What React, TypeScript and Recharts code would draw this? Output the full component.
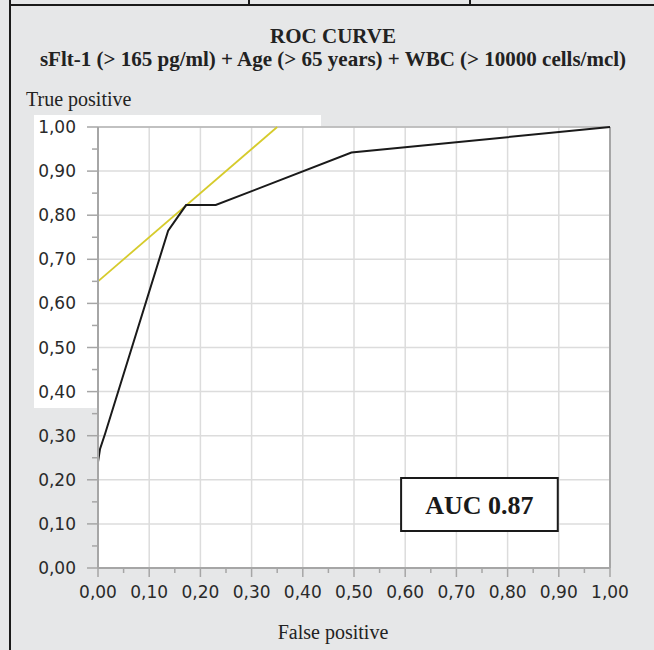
import React from 'react';
import { LineChart, Line, XAxis, YAxis, CartesianGrid, ReferenceArea, ReferenceLine } from 'recharts';

// ROC curve points (false positive rate, true positive rate)
const rocFpr = [0, 0.004, 0.014, 0.137, 0.172, 0.23, 0.495, 1];
const rocTpr = [0.24, 0.27, 0.305, 0.765, 0.823, 0.823, 0.942, 1];

// tangent (yellow) line
const tangentFpr = [0, 0.35];
const tangentTpr = [0.65, 1];

const majorTicks = [0, 0.1, 0.2, 0.3, 0.4, 0.5, 0.6, 0.7, 0.8, 0.9, 1];
const allTicks = [0, 0.05, 0.1, 0.15, 0.2, 0.25, 0.3, 0.35, 0.4, 0.45, 0.5, 0.55, 0.6, 0.65, 0.7, 0.75, 0.8, 0.85, 0.9, 0.95, 1];

const aucLabel = 'AUC 0.87';
const aucX = [0.592, 0.898];
const aucY = [0.084, 0.204];

const rocData = rocFpr.map((x, i) => ({ x, y: rocTpr[i] }));
const tangentData = tangentFpr.map((x, i) => ({ x, y: tangentTpr[i] }));

const isMajor = (v: number) => Math.abs(v * 10 - Math.round(v * 10)) < 1e-6;
const fmt = (v: number) => v.toFixed(2).replace('.', ',');

const AXIS = '#a6a6a6';
const tickFont = { fontFamily: 'DejaVu Sans', fontSize: 17, fill: '#2a2a2a' };

const XTick = (props: any) => {
  const { x, y, payload } = props;
  const major = isMajor(payload.value);
  return (
    <g>
      <line x1={x} x2={x} y1={y} y2={y + (major ? 9 : 5)} stroke={AXIS} strokeWidth={1.5} />
      {major && (
        <text x={x} y={y + 30} textAnchor="middle" {...tickFont}>
          {fmt(payload.value)}
        </text>
      )}
    </g>
  );
};

const YTick = (props: any) => {
  const { x, y, payload } = props;
  const major = isMajor(payload.value);
  return (
    <g>
      <line x1={x - (major ? 11 : 6)} x2={x} y1={y} y2={y} stroke={AXIS} strokeWidth={1.5} />
      {major && (
        <text x={x - 22} y={y + 6} textAnchor="end" {...tickFont}>
          {fmt(payload.value)}
        </text>
      )}
    </g>
  );
};

const serif = 'Liberation Serif';

export default function App() {
  return (
    <div style={{ position: 'absolute', left: 0, top: 0, width: 654, height: 650, background: '#e6e7e8', overflow: 'hidden' }}>
      <svg width={654} height={650} style={{ position: 'absolute', left: 0, top: 0 }}>
        <line x1={10} x2={10} y1={0} y2={650} stroke="#1a1a1a" strokeWidth={2} />
        <line x1={10} x2={654} y1={5} y2={5} stroke="#1a1a1a" strokeWidth={2} />
        <line x1={249} x2={249} y1={0} y2={5} stroke="#1a1a1a" strokeWidth={2} />
        <line x1={470} x2={470} y1={0} y2={5} stroke="#1a1a1a" strokeWidth={2} />
        <rect x={34} y={115} width={287} height={13} fill="#fff" />
        <rect x={34} y={115} width={64} height={293} fill="#fff" />
        <text x={333} y={43} textAnchor="middle" fontFamily={serif} fontSize={21} fontWeight="bold" fill="#222">
          ROC CURVE
        </text>
        <text x={333} y={66} textAnchor="middle" fontFamily={serif} fontSize={21} fontWeight="bold" fill="#222">
          sFlt-1 (&gt; 165 pg/ml) + Age (&gt; 65 years) + WBC (&gt; 10000 cells/mcl)
        </text>
        <text x={26} y={106} fontFamily={serif} fontSize={20} fill="#222">True positive</text>
        <text x={333} y={639} textAnchor="middle" fontFamily={serif} fontSize={20} fill="#222">False positive</text>
      </svg>
      <div style={{ position: 'absolute', left: 0, top: 0 }}>
        <LineChart width={654} height={650} margin={{ top: 127, right: 44, bottom: 52, left: 0 }}>
          <CartesianGrid
            fill="#fff"
            stroke="#dcdcdc"
            strokeWidth={1.5}
            verticalValues={majorTicks}
            horizontalValues={majorTicks}
          />
          <XAxis
            dataKey="x"
            type="number"
            domain={[0, 1]}
            ticks={allTicks}
            interval={0}
            height={30}
            tickSize={0}
            tickMargin={0}
            tickLine={false}
            tick={<XTick />}
            axisLine={{ stroke: AXIS, strokeWidth: 2 }}
          />
          <YAxis
            dataKey="y"
            type="number"
            domain={[0, 1]}
            ticks={allTicks}
            interval={0}
            width={98}
            tickSize={0}
            tickMargin={0}
            tickLine={false}
            tick={<YTick />}
            axisLine={{ stroke: AXIS, strokeWidth: 2 }}
          />
          <ReferenceLine y={1} stroke="#b4b4b4" strokeWidth={1.5} />
          <ReferenceLine x={1} stroke={AXIS} strokeWidth={2} />
          <Line
            data={tangentData}
            dataKey="y"
            type="linear"
            stroke="#d6cb2c"
            strokeWidth={1.8}
            dot={false}
            isAnimationActive={false}
          />
          <Line
            data={rocData}
            dataKey="y"
            type="linear"
            stroke="#1a1a1a"
            strokeWidth={2}
            dot={false}
            isAnimationActive={false}
          />
          <ReferenceArea
            x1={aucX[0]}
            x2={aucX[1]}
            y1={aucY[0]}
            y2={aucY[1]}
            fill="#fff"
            fillOpacity={1}
            stroke="#1a1a1a"
            strokeWidth={2}
            label={{ value: aucLabel, position: 'center', fontFamily: serif, fontSize: 26, fontWeight: 'bold', fill: '#1a1a1a' }}
          />
        </LineChart>
      </div>
    </div>
  );
}
